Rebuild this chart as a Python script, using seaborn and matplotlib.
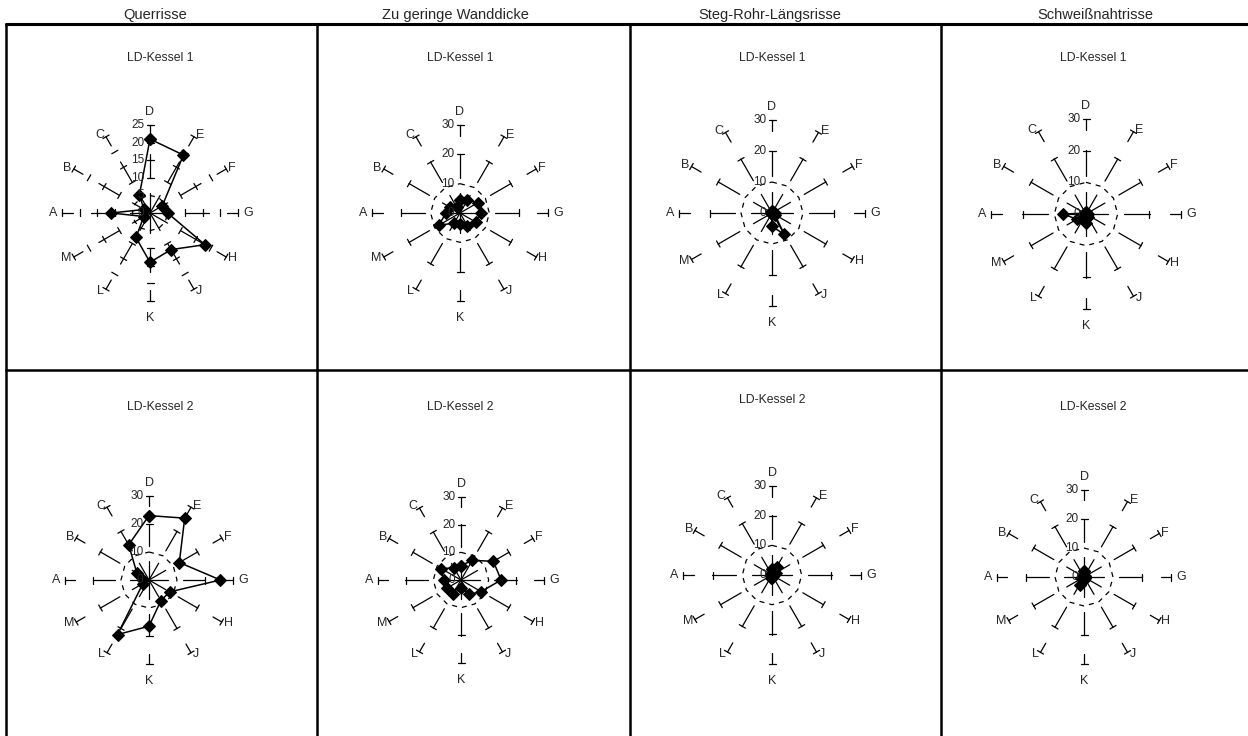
import numpy as np
import pandas as pd
import matplotlib
matplotlib.use("Agg")
import matplotlib.pyplot as plt
import seaborn as sns

# 12 Kategorien, im Uhrzeigersinn ab oben (D)
categories = ['D', 'E', 'F', 'G', 'H', 'J', 'K', 'L', 'M', 'A', 'B', 'C']

col_titles = ['Querrisse', 'Zu geringe Wanddicke', 'Steg-Rohr-Längsrisse', 'Schweißnahtrisse']
row_titles = ['LD-Kessel 1', 'LD-Kessel 2']

# Werte je Kessel / Schadensart
querrisse_k1 = [21, 19, 4, 5, 18, 12, 14, 8, 2, 11, 2, 6]
wanddicke_k1 = [4.3, 5, 7, 7, 6.2, 5, 3.7, 4, 8.3, 4.8, 4, 2.2]
steg_k1 = [0.5, 0.5, 0.5, 1, 1, 8, 4.3, 0.3, 0.3, 0.3, 0.3, 0.3]
schweiss_k1 = [0.5, 0.3, 0.3, 0.5, 0.5, 1, 2.8, 1, 3.3, 7.3, 0.5, 0.5]

querrisse_k2 = [23, 25.5, 12.5, 25.5, 8.5, 8.5, 16.5, 22.5, 2.5, 2, 5, 14.5]
wanddicke_k2 = [5.2, 8.2, 13.5, 14.5, 8.4, 6, 2.8, 5.9, 5.8, 6.2, 8.2, 5.1]
steg_k2 = [2, 3.2, 1.5, 0.8, 0.5, 0.5, 1, 1, 0.5, 0.5, 0.5, 0.5]
schweiss_k2 = [2, 0.5, 0.5, 0.5, 0.5, 0.5, 1, 3, 1, 0.5, 0.5, 0.5]

series = [querrisse_k1, wanddicke_k1, steg_k1, schweiss_k1,
          querrisse_k2, wanddicke_k2, steg_k2, schweiss_k2]
axis_max = [25, 30, 30, 30, 30, 30, 30, 30]
axis_step = [5, 10, 10, 10, 10, 10, 10, 10]

# Layout (Pixel)
W, H = 1248, 736
centers = [(150, 213), (460, 213), (772, 213), (1086, 214),
           (149, 580), (461, 580), (772, 575), (1084, 577)]
radii = [88, 88, 93, 95, 84, 83, 89, 87]
SPOKE_SEGMENTS = [(0.0, 0.23), (0.40, 0.67), (0.88, 1.0)]

sns.set_style('white')
plt.rcParams['font.family'] = ['Liberation Sans', 'DejaVu Sans']

fig = plt.figure(figsize=(W / 100, H / 100), dpi=100)

# Tabellenrahmen und Überschriften
bg = fig.add_axes([0, 0, 1, 1])
bg.set_xlim(0, W)
bg.set_ylim(H, 0)
bg.axis('off')
bg.plot([6, W], [24, 24], color='k', lw=2.2)
bg.plot([6, W], [370, 370], color='k', lw=1.8)
for x in [6, 317, 630, 941]:
    bg.plot([x, x], [24, H], color='k', lw=1.8)
for x, t in zip([155, 455, 770, 1095], col_titles):
    bg.text(x, 22, t, ha='center', va='bottom', fontsize=10.5)
sub_pos = [(160, 58), (460, 58), (772, 58), (1093, 58),
           (160, 407), (460, 407), (772, 400), (1093, 407)]

PT = 0.72  # Punkte pro Pixel bei 100 dpi


def label_placement(t):
    dx, dy = np.sin(t), np.cos(t)
    if abs(dx) < 0.1:
        if dy > 0:
            return (0, 7 * PT), 'center', 'bottom'
        return (0, -11 * PT), 'center', 'top'
    ha = 'left' if dx > 0 else 'right'
    if abs(dy) < 0.1:
        return (np.sign(dx) * 5 * PT, 0), ha, 'center'
    return (np.sign(dx) * 2 * PT, dy * 2 * PT), ha, 'center'


def draw_radar(ax, values, rmax, step, rpx):
    n = len(categories)
    theta = np.arange(n) * 2 * np.pi / n
    ax.set_theta_zero_location('N')
    ax.set_theta_direction(-1)
    ax.set_ylim(0, rmax)
    ax.axis('off')
    unit = rmax / rpx  # Dateneinheiten pro Pixel
    h = 3.5 * unit
    for t, cat in zip(theta, categories):
        for a, b in SPOKE_SEGMENTS:
            ax.plot([t, t], [a * rmax, b * rmax], color='k', lw=0.9, clip_on=False)
        for v in np.arange(2 * step, rmax + 0.01, step):
            dt = np.arctan(h / v)
            rr = np.hypot(v, h)
            ax.plot([t - dt, t + dt], [rr, rr], color='k', lw=0.9, clip_on=False)
        off, ha, va = label_placement(t)
        ax.annotate(cat, xy=(t, rmax), xytext=off, textcoords='offset points',
                    ha=ha, va=va, fontsize=9, annotation_clip=False)
    # gestrichelte Gitterlinie beim ersten Teilstrich
    ring_t = np.append(theta, 2 * np.pi)
    ax.plot(ring_t, [step] * len(ring_t), color='k', lw=0.9, ls=(0, (4, 4)))
    # Achsenbeschriftung an der D-Achse
    for v in np.arange(0, rmax + 0.01, step):
        ax.annotate(f'{v:g}', xy=(0, v), xytext=(-4, 0), textcoords='offset points',
                    ha='right', va='center', fontsize=8.5, annotation_clip=False)
    df = pd.DataFrame({'theta': np.append(theta, 2 * np.pi),
                       'value': list(values) + [values[0]]})
    sns.lineplot(data=df, x='theta', y='value', sort=False, estimator=None,
                 color='k', lw=1.1, marker='D', markersize=6.5,
                 markeredgecolor='k', ax=ax)
    ax.set_xlabel('')
    ax.set_ylabel('')


for i, vals in enumerate(series):
    cx, cy = centers[i]
    r = radii[i]
    ax = fig.add_axes([(cx - r) / W, (H - cy - r) / H, 2 * r / W, 2 * r / H],
                      projection='polar')
    draw_radar(ax, vals, axis_max[i], axis_step[i], r)
    sx, sy = sub_pos[i]
    bg.text(sx, sy, row_titles[i // 4], ha='center', va='center', fontsize=8.8)

fig.savefig('out.png', dpi=100)
